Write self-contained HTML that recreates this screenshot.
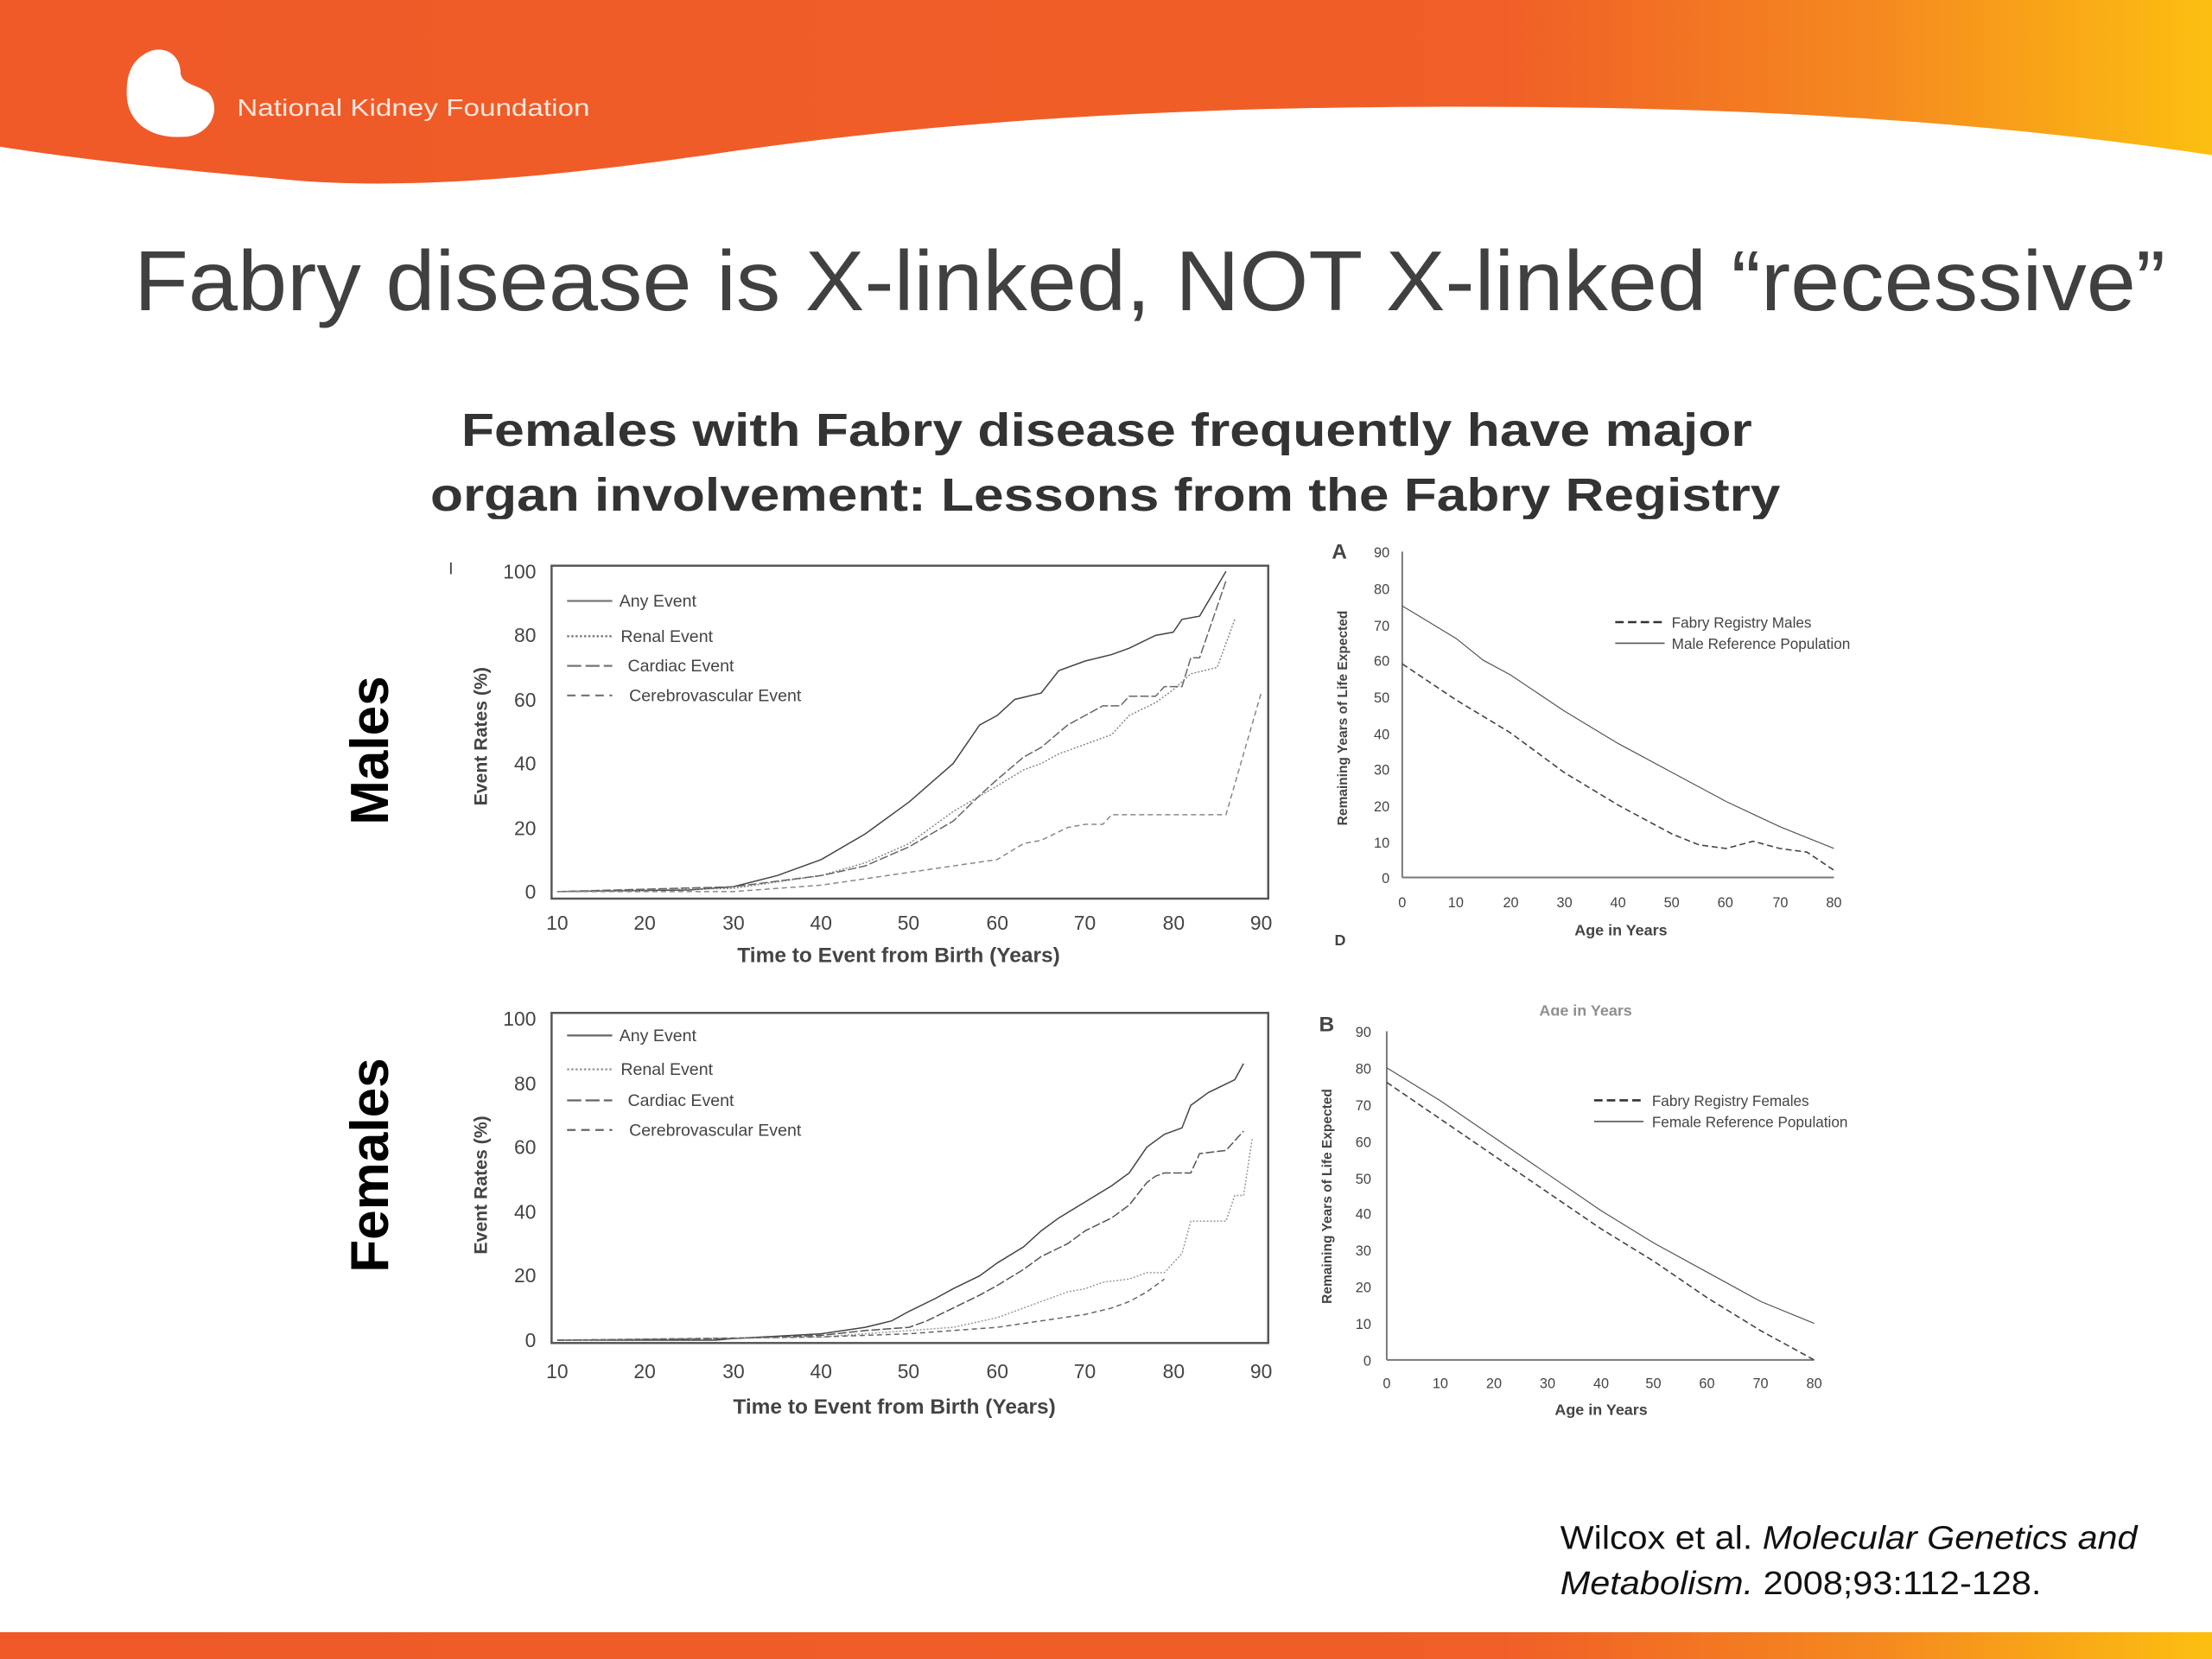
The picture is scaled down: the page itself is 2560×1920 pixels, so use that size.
<!DOCTYPE html>
<html><head><meta charset="utf-8"><style>
html,body{margin:0;padding:0;background:#fff;width:2560px;height:1920px;overflow:hidden}
svg{display:block}
.t{font-family:"Liberation Sans",sans-serif;fill:#444}
</style></head><body>
<svg width="2560" height="1920" viewBox="0 0 1568 1176" xmlns="http://www.w3.org/2000/svg">
<defs>
<linearGradient id="g" x1="0" x2="1" y1="0" y2="0">
<stop offset="0" stop-color="#ef5a28"/><stop offset="0.68" stop-color="#f05f27"/><stop offset="0.85" stop-color="#f58a1f"/><stop offset="1" stop-color="#fcbf10"/></linearGradient>
</defs>
<rect width="1568" height="1176" fill="#fff"/>
<path d="M0 0H1568V110C1450 92 1300 78 1100 76C900 74 700 80 500 110C380 127 280 135 200 127C120 120 50 112 0 104Z" fill="url(#g)"/>
<rect x="0" y="1157" width="1568" height="19" fill="url(#g)"/>
<path d="M100 40C112 30 128 36 128 52C129 60 140 60 148 66C158 78 148 98 128 97C108 98 92 88 90 70C89 56 92 46 100 40Z" fill="#fff"/>
<text x="168" y="82" font-family="Liberation Sans,sans-serif" font-size="17" fill="#fff" fill-opacity="0.85" textLength="250" lengthAdjust="spacingAndGlyphs">National Kidney Foundation</text>
<text x="95" y="220" font-family="Liberation Sans,sans-serif" font-size="60" fill="#404040" textLength="1440" lengthAdjust="spacingAndGlyphs">Fabry disease is X-linked, NOT X-linked “recessive”</text>
<text x="327" y="316" font-family="Liberation Sans,sans-serif" font-weight="bold" font-size="33" fill="#333" textLength="915" lengthAdjust="spacingAndGlyphs">Females with Fabry disease frequently have major</text>
<text x="305" y="362" font-family="Liberation Sans,sans-serif" font-weight="bold" font-size="33" fill="#333" textLength="957" lengthAdjust="spacingAndGlyphs">organ involvement: Lessons from the Fabry Registry</text>
<rect x="300" y="368" width="1040" height="12" fill="#fff"/>

<text transform="translate(275,532) rotate(-90)" text-anchor="middle" font-family="Liberation Sans,sans-serif" font-weight="bold" font-size="38" fill="#000">Males</text>
<text transform="translate(275,826) rotate(-90)" text-anchor="middle" font-family="Liberation Sans,sans-serif" font-weight="bold" font-size="38" fill="#000">Females</text>

<!-- Top-left chart -->
<g fill="none" stroke="#555">
<rect x="391" y="401" width="508" height="236" stroke-width="1.5"/>
</g>
<text x="318" y="407" class="t" font-size="12">I</text>
<g class="t" font-size="14" text-anchor="end">
<text x="380" y="410">100</text><text x="380" y="455">80</text><text x="380" y="501">60</text><text x="380" y="546">40</text><text x="380" y="592">20</text><text x="380" y="637">0</text></g>
<g class="t" font-size="14" text-anchor="middle">
<text x="395" y="659">10</text><text x="457" y="659">20</text><text x="520" y="659">30</text><text x="582" y="659">40</text><text x="644" y="659">50</text><text x="707" y="659">60</text><text x="769" y="659">70</text><text x="832" y="659">80</text><text x="894" y="659">90</text></g>
<text x="637" y="682" text-anchor="middle" class="t" font-size="15" font-weight="bold" fill="#333">Time to Event from Birth (Years)</text>
<text transform="translate(345,522) rotate(-90)" text-anchor="middle" class="t" font-size="13" font-weight="bold">Event Rates (%)</text>
<g stroke="#777" stroke-width="1.4">
<line x1="402" y1="426" x2="434" y2="426"/>
<line x1="402" y1="451" x2="434" y2="451" stroke-dasharray="1.5 1.5"/>
<line x1="402" y1="472" x2="434" y2="472" stroke-dasharray="10 3"/>
<line x1="402" y1="493" x2="434" y2="493" stroke-dasharray="6 4"/>
</g>
<g class="t" font-size="12"><text x="439" y="430">Any Event</text><text x="440" y="455">Renal Event</text><text x="445" y="476">Cardiac Event</text><text x="446" y="497">Cerebrovascular Event</text></g>
<g transform="matrix(6.2375,0,0,-2.27,332.625,632)" fill="none" stroke="#555" stroke-width="1.5">
<polyline vector-effect="non-scaling-stroke" stroke="#444" points="10,0 25,0.5 30,1.5 35,5 40,10 45,18 50,28 55,40 58,52 60,55 62,60 65,62 67,69 70,72 73,74 75,76 78,80 80,81 81,85 83,86 86,100"/>
<polyline vector-effect="non-scaling-stroke" stroke="#888" stroke-dasharray="2 2" points="10,0 30,1 40,5 45,9 50,15 55,25 60,33 63,38 65,40 67,43 70,46 73,49 75,55 78,59 80,63 82,68 85,70 87,85"/>
<polyline vector-effect="non-scaling-stroke" stroke="#666" stroke-dasharray="10 3" points="10,0 30,1.5 40,5 45,8 50,14 55,22 58,30 60,35 63,42 65,45 68,52 70,55 72,58 74,58 75,61 78,61 79,64 81,64 82,73 83,73 86,97"/>
<polyline vector-effect="non-scaling-stroke" stroke="#888" stroke-dasharray="6 4" points="10,0 30,0 40,2 45,4 50,6 55,8 60,10 63,15 65,16 68,20 70,21 72,21 73,24 86,24 90,62"/>
</g>

<!-- Bottom-left chart -->
<rect x="391" y="718" width="508" height="234" fill="none" stroke="#555" stroke-width="1.5"/>
<g class="t" font-size="14" text-anchor="end">
<text x="380" y="727">100</text><text x="380" y="773">80</text><text x="380" y="818">60</text><text x="380" y="864">40</text><text x="380" y="909">20</text><text x="380" y="955">0</text></g>
<g class="t" font-size="14" text-anchor="middle">
<text x="395" y="977">10</text><text x="457" y="977">20</text><text x="520" y="977">30</text><text x="582" y="977">40</text><text x="644" y="977">50</text><text x="707" y="977">60</text><text x="769" y="977">70</text><text x="832" y="977">80</text><text x="894" y="977">90</text></g>
<text x="634" y="1002" text-anchor="middle" class="t" font-size="15" font-weight="bold" fill="#333">Time to Event from Birth (Years)</text>
<text transform="translate(345,840) rotate(-90)" text-anchor="middle" class="t" font-size="13" font-weight="bold">Event Rates (%)</text>
<g stroke="#666" stroke-width="1.4">
<line x1="402" y1="734" x2="434" y2="734"/>
<line x1="402" y1="758" x2="434" y2="758" stroke-dasharray="1.5 1.5" stroke="#999"/>
<line x1="402" y1="780" x2="434" y2="780" stroke-dasharray="10 3"/>
<line x1="402" y1="801" x2="434" y2="801" stroke-dasharray="6 4"/>
</g>
<g class="t" font-size="12"><text x="439" y="738">Any Event</text><text x="440" y="762">Renal Event</text><text x="445" y="784">Cardiac Event</text><text x="446" y="805">Cerebrovascular Event</text></g>
<g transform="matrix(6.2375,0,0,-2.28,332.625,950)" fill="none" stroke-width="1.5">
<polyline vector-effect="non-scaling-stroke" stroke="#444" points="10,0 28,0 30,0.5 40,2 45,4 48,6 50,9 53,13 55,16 58,20 60,24 63,29 65,34 67,38 70,43 73,48 75,52 77,60 79,64 81,66 82,73 84,77 87,81 88,86"/>
<polyline vector-effect="non-scaling-stroke" stroke="#555" stroke-dasharray="10 3" points="10,0 30,0.5 40,1.5 45,3 50,4 52,6 55,10 58,14 60,17 63,22 65,26 68,30 70,34 73,38 75,42 77,49 78,51 79,52 82,52 83,58 86,59 88,65"/>
<polyline vector-effect="non-scaling-stroke" stroke="#999" stroke-dasharray="2 2" points="10,0 40,1 50,3 55,4 60,7 63,10 65,12 68,15 70,16 72,18 75,19 77,21 79,21 81,27 82,37 86,37 87,45 88,45 89,63"/>
<polyline vector-effect="non-scaling-stroke" stroke="#666" stroke-dasharray="6 4" points="10,0 40,1 50,2 55,3 60,4 65,6 70,8 73,10 75,12 77,15 79,19"/>
</g>

<!-- Chart A -->
<text x="944" y="396" class="t" font-size="15" font-weight="bold" fill="#333">A</text>
<g stroke="#777" stroke-width="1.2"><line x1="994" y1="391" x2="994" y2="622"/><line x1="994" y1="622" x2="1300" y2="622"/></g>
<g class="t" font-size="10" text-anchor="end">
<text x="985" y="395">90</text><text x="985" y="421">80</text><text x="985" y="447">70</text><text x="985" y="472">60</text><text x="985" y="498">50</text><text x="985" y="524">40</text><text x="985" y="549">30</text><text x="985" y="575">20</text><text x="985" y="601">10</text><text x="985" y="626">0</text></g>
<g class="t" font-size="10" text-anchor="middle">
<text x="994" y="643">0</text><text x="1032" y="643">10</text><text x="1071" y="643">20</text><text x="1109" y="643">30</text><text x="1147" y="643">40</text><text x="1185" y="643">50</text><text x="1223" y="643">60</text><text x="1262" y="643">70</text><text x="1300" y="643">80</text></g>
<text x="1149" y="663" text-anchor="middle" class="t" font-size="11" font-weight="bold">Age in Years</text>
<text transform="translate(955,509) rotate(-90)" text-anchor="middle" class="t" font-size="9.5" font-weight="bold">Remaining Years of Life Expected</text>
<text x="946" y="670" class="t" font-size="11" font-weight="bold">D</text>
<line x1="1145" y1="441" x2="1180" y2="441" stroke="#333" stroke-width="1.6" stroke-dasharray="6 3"/>
<line x1="1145" y1="456" x2="1180" y2="456" stroke="#555" stroke-width="1"/>
<g class="t" font-size="10.5"><text x="1185" y="445">Fabry Registry Males</text><text x="1185" y="460">Male Reference Population</text></g>
<g transform="matrix(3.825,0,0,-2.5667,994,622)" fill="none">
<polyline vector-effect="non-scaling-stroke" stroke="#555" stroke-width="1.2" points="0,75 10,66 15,60 20,56 30,46 40,37 50,29 60,21 70,14 80,8"/>
<polyline vector-effect="non-scaling-stroke" stroke="#444" stroke-width="1.6" stroke-dasharray="7 4" points="0,59 10,49 20,40 30,29 40,20 50,12 55,9 60,8 65,10 70,8 75,7 80,2"/>
</g>

<!-- Chart B -->
<text x="1124" y="720" text-anchor="middle" class="t" font-size="11" font-weight="bold" fill-opacity="0.6">Age in Years</text>
<rect x="1080" y="720" width="120" height="10" fill="#fff"/>
<text x="935" y="731" class="t" font-size="15" font-weight="bold" fill="#333">B</text>
<g stroke="#777" stroke-width="1.2"><line x1="983" y1="731" x2="983" y2="964"/><line x1="983" y1="964" x2="1286" y2="964"/></g>
<g class="t" font-size="10" text-anchor="end">
<text x="972" y="735">90</text><text x="972" y="761">80</text><text x="972" y="787">70</text><text x="972" y="813">60</text><text x="972" y="839">50</text><text x="972" y="864">40</text><text x="972" y="890">30</text><text x="972" y="916">20</text><text x="972" y="942">10</text><text x="972" y="968">0</text></g>
<g class="t" font-size="10" text-anchor="middle">
<text x="983" y="984">0</text><text x="1021" y="984">10</text><text x="1059" y="984">20</text><text x="1097" y="984">30</text><text x="1135" y="984">40</text><text x="1172" y="984">50</text><text x="1210" y="984">60</text><text x="1248" y="984">70</text><text x="1286" y="984">80</text></g>
<text x="1135" y="1003" text-anchor="middle" class="t" font-size="11" font-weight="bold">Age in Years</text>
<text transform="translate(944,848) rotate(-90)" text-anchor="middle" class="t" font-size="9.5" font-weight="bold">Remaining Years of Life Expected</text>
<line x1="1130" y1="780" x2="1165" y2="780" stroke="#333" stroke-width="1.6" stroke-dasharray="6 3"/>
<line x1="1130" y1="795" x2="1165" y2="795" stroke="#555" stroke-width="1"/>
<g class="t" font-size="10.5"><text x="1171" y="784">Fabry Registry Females</text><text x="1171" y="799">Female Reference Population</text></g>
<g transform="matrix(3.7875,0,0,-2.5889,983,964)" fill="none">
<polyline vector-effect="non-scaling-stroke" stroke="#555" stroke-width="1.2" points="0,80 10,71 15,66 20,61 30,51 40,41 50,32 60,24 70,16 80,10"/>
<polyline vector-effect="non-scaling-stroke" stroke="#444" stroke-width="1.6" stroke-dasharray="7 4" points="0,76 10,66 20,56 30,46 40,36 50,27 60,17 70,8 80,0"/>
</g>

<text x="1106" y="1098" font-family="Liberation Sans,sans-serif" font-size="23" fill="#111" textLength="409" lengthAdjust="spacingAndGlyphs">Wilcox et al. <tspan font-style="italic">Molecular Genetics and</tspan></text>
<text x="1106" y="1130" font-family="Liberation Sans,sans-serif" font-size="23" fill="#111" textLength="341" lengthAdjust="spacingAndGlyphs"><tspan font-style="italic">Metabolism.</tspan> 2008;93:112-128.</text>
</svg>
</body></html>
